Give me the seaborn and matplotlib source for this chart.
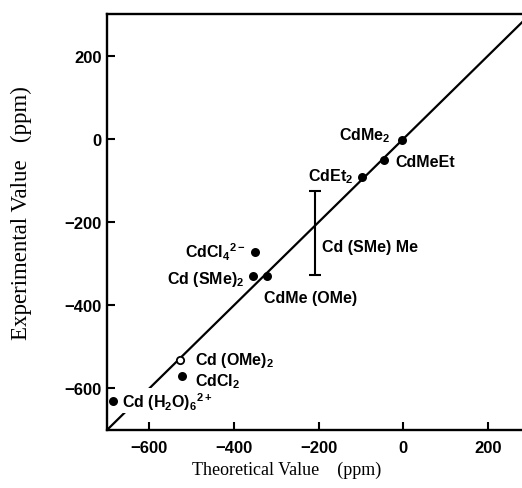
import matplotlib
matplotlib.use("Agg")
import matplotlib.pyplot as plt
import seaborn as sns
import pandas as pd

# ---- data ----
names = ["CdMe2", "CdMeEt", "CdEt2", "CdCl4", "Cd(SMe)2", "CdMe(OMe)",
         "CdCl2", "Cd(H2O)6"]
labels = ["CdMe$_2$", "CdMeEt", "CdEt$_2$", "CdCl$_4$$^{2-}$", "Cd (SMe)$_2$",
          "CdMe (OMe)", "CdCl$_2$", "Cd (H$_2$O)$_6$$^{2+}$"]
theo = [-4, -47, -98, -350, -356, -323, -522, -687]
expt = [-3, -52, -93, -272, -330, -330, -569, -630]

open_name = "Cd (OMe)$_2$"
open_theo = [-527]
open_expt = [-531]

bar_name = "Cd (SMe) Me"
bar_theo = -208
bar_low = -327
bar_high = -125

line_x = [-700, 285]
line_y = [-700, 285]

xticks = [-600, -400, -200, 0, 200]
yticks = [200, 0, -200, -400, -600]

sns.set_style("ticks", {"axes.edgecolor": "black", "text.color": "black",
                        "axes.labelcolor": "black", "xtick.color": "black",
                        "ytick.color": "black"})
plt.rcParams["font.family"] = ["Liberation Sans", "DejaVu Sans"]
plt.rcParams["mathtext.default"] = "regular"

fig = plt.figure(figsize=(5.22, 4.89), dpi=100)
ax = fig.add_axes([107 / 522, 1 - 431 / 489, 415 / 522, (431 - 15) / 489])

sns.lineplot(x=line_x, y=line_y, ax=ax, color="black", linewidth=1.6, zorder=2)
df = pd.DataFrame({"theo": theo, "expt": expt})
sns.scatterplot(data=df, x="theo", y="expt", ax=ax, color="black", s=42,
                edgecolor="black", linewidth=0, zorder=5)
sns.scatterplot(x=open_theo, y=open_expt, ax=ax, color="white", s=28,
                edgecolor="black", linewidth=1.3, zorder=5)
bar_mid = (bar_low + bar_high) / 2
ax.errorbar([bar_theo], [bar_mid], yerr=[[bar_mid - bar_low], [bar_high - bar_mid]],
            fmt="none", ecolor="black", elinewidth=1.5, capsize=4, capthick=1.5)

FS = 11.5
# label offsets in pixels (dx, dy, ha)
offs = [(-11, 5, "right"), (12, -1, "left"), (-9, 2, "right"), (-9, 1, "right"),
        (-8, -2, "right"), (-3, -21, "left"), (13, -5, "left"), (9, 0, "left")]
for i, (lab, x, y, (dx, dy, ha)) in enumerate(zip(labels, theo, expt, offs)):
    bbox = None
    if names[i] == "Cd(H2O)6":
        bbox = dict(boxstyle="square,pad=0.1", facecolor="white", edgecolor="none")
    ax.annotate(lab, (x, y), xytext=(dx, dy), textcoords="offset pixels",
                ha=ha, va="center", fontsize=FS, fontweight="bold", bbox=bbox,
                zorder=4, color="black")
ax.annotate(open_name, (open_theo[0], open_expt[0]), xytext=(15, 0),
            textcoords="offset pixels", ha="left", va="center",
            fontsize=FS, fontweight="bold", color="black")
ax.annotate(bar_name, (bar_theo, -260), xytext=(7, 0), textcoords="offset pixels",
            ha="left", va="center", fontsize=FS, fontweight="bold", color="black")

ax.set_xlim(-700, 280)
ax.set_ylim(-700, 300)
ax.set_xticks(xticks)
ax.set_yticks(yticks)
ax.tick_params(direction="in", length=6, width=1.5, labelsize=12, colors="black")
ax.tick_params(axis="x", pad=7)
ax.tick_params(axis="y", pad=4)
for lab in ax.get_xticklabels() + ax.get_yticklabels():
    lab.set_fontweight("bold")
for side in ["left", "bottom", "top"]:
    ax.spines[side].set_linewidth(1.7)
    ax.spines[side].set_color("black")
ax.spines["right"].set_visible(False)

ax.set_xlabel("Theoretical Value    (ppm)", family="Liberation Serif", fontsize=13,
              color="black")
ax.xaxis.set_label_coords(0.434, -0.074)
ax.set_ylabel("Experimental Value   (ppm)", family="Liberation Serif", fontsize=16.5,
              color="black")
ax.yaxis.set_label_coords(-0.18, 0.525)

fig.savefig("out.png", dpi=100)
